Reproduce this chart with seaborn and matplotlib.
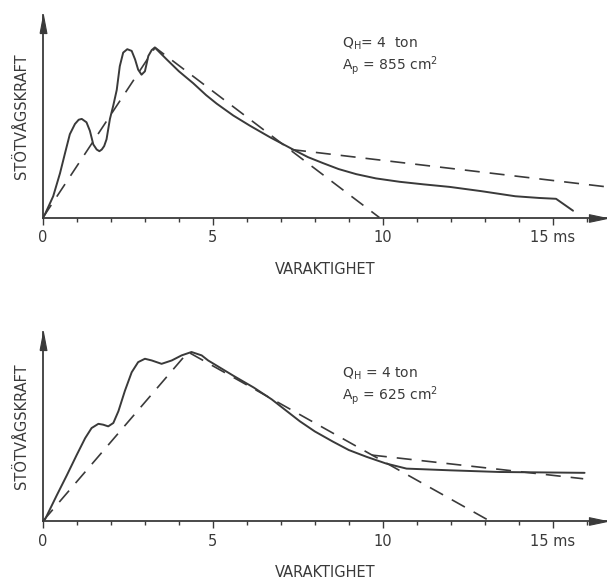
import matplotlib
matplotlib.use("Agg")
import matplotlib.pyplot as plt
import seaborn as sns

# ---- data (time in ms, force normalised so that peak = 1) ----
top_t = [0, 0.06, 0.30, 0.50, 0.65, 0.79, 0.94, 1.05, 1.14, 1.28, 1.38, 1.48, 1.58, 1.66, 1.73, 1.80, 1.87, 1.97,
         2.07, 2.17, 2.26, 2.36, 2.48, 2.61, 2.71, 2.80, 2.90, 3.00, 3.10, 3.20, 3.29,
         3.64, 4.0, 4.42, 4.8, 5.11, 5.6, 6.09, 6.7, 7.36, 7.8, 8.24, 8.7, 9.22, 9.8, 10.5, 11.2, 11.97, 12.9, 13.9,
         14.6, 15.1, 15.6]
top_y = [0, 0.02, 0.125, 0.26, 0.38, 0.49, 0.55, 0.575, 0.58, 0.56, 0.51, 0.43, 0.40, 0.39, 0.40, 0.42, 0.46, 0.58,
         0.66, 0.75, 0.89, 0.97, 0.99, 0.98, 0.93, 0.87, 0.84, 0.86, 0.95, 0.985, 1.0,
         0.93, 0.86, 0.79, 0.72, 0.67, 0.60, 0.54, 0.47, 0.40, 0.355, 0.32, 0.285, 0.255, 0.23, 0.21, 0.195, 0.18,
         0.155, 0.125, 0.115, 0.11, 0.04]
top_tri_t = [0, 3.3, 9.9]
top_tri_y = [0, 1.0, 0]
top_tail_t = [7.3, 16.6]
top_tail_y = [0.40, 0.18]

bot_t = [0, 0.06, 0.40, 0.70, 0.99, 1.24, 1.43, 1.63, 1.77, 1.92, 2.07, 2.22, 2.41, 2.61, 2.80, 3.0, 3.2, 3.49,
         3.79, 4.08, 4.37, 4.67, 4.86, 5.6, 6.2, 6.73, 7.56, 8.0, 8.53, 9.0, 9.52, 10.1, 10.7, 11.97, 13.44, 15.94]
bot_y = [0, 0.01, 0.15, 0.27, 0.39, 0.49, 0.55, 0.575, 0.57, 0.56, 0.58, 0.65, 0.77, 0.88, 0.94, 0.96, 0.95, 0.93,
         0.95, 0.98, 1.0, 0.98, 0.95, 0.86, 0.79, 0.72, 0.59, 0.53, 0.47, 0.42, 0.38, 0.34, 0.31, 0.30, 0.29, 0.285]
bot_tri_t = [0, 4.27, 13.15]
bot_tri_y = [0, 1.0, 0]
bot_tail_t = [9.68, 15.9]
bot_tail_y = [0.39, 0.25]

xticks = [0, 5, 10, 15]
xticklabels = ["0", "5", "10", "15 ms"]
ylabel = "STÖTVÅGSKRAFT"
xlabel = "VARAKTIGHET"
top_text = [r"Q$_\mathregular{H}$= 4  ton", r"A$_\mathregular{p}$ = 855 cm$^\mathregular{2}$"]
bot_text = [r"Q$_\mathregular{H}$ = 4 ton", r"A$_\mathregular{p}$ = 625 cm$^\mathregular{2}$"]

sns.set_theme(style="white")
plt.rcParams["font.family"] = ["DejaVu Sans"]
plt.rcParams["mathtext.fontset"] = "dejavusans"

col = "#3a3a3a"
W, H = 607, 581
fig = plt.figure(figsize=(W / 100, H / 100), dpi=100)
fig.patch.set_facecolor("white")

arrow_right = [(-2, -0.42), (0, 0), (-2, 0.42), (-2, -0.42)]
arrow_up = [(-0.38, -2), (0, 0), (0.38, -2), (-0.38, -2)]


def make_ax(base_px, top_px, ymax):
    left = 43 / W
    width = (607 - 43) / W
    bottom = (H - base_px) / H
    height = (base_px - top_px) / H
    ax = fig.add_axes([left, bottom, width, height])
    ax.set_xlim(0, 16.6)
    ax.set_ylim(0, ymax)
    return ax


def style(ax, texts, text_y):
    for s in ["top", "right"]:
        ax.spines[s].set_visible(False)
    for s in ["left", "bottom"]:
        ax.spines[s].set_color(col)
        ax.spines[s].set_linewidth(1.3)
    ax.set_xticks(xticks)
    ax.set_xticklabels(xticklabels)
    ax.set_xticks(range(1, 17), minor=True)
    ax.tick_params(axis="x", which="major", direction="out", length=5, width=1, color=col,
                   labelsize=10.5, labelcolor=col, pad=4, bottom=True)
    ax.tick_params(axis="x", which="minor", direction="out", length=3, width=1, color=col, bottom=True)
    ax.set_yticks([])
    ax.set_xlabel(xlabel, fontsize=10.5, color=col, labelpad=12)
    ax.set_ylabel(ylabel, fontsize=10.5, color=col, labelpad=10)
    ax.plot(1, 0, marker=arrow_right, color=col, markersize=26, markeredgewidth=0.8,
            transform=ax.transAxes, clip_on=False)
    ax.plot(0, 1, marker=arrow_up, color=col, markersize=26, markeredgewidth=0.8,
            transform=ax.transAxes, clip_on=False)
    ax.text(0.53, text_y[0], texts[0], transform=ax.transAxes, fontsize=10, color=col)
    ax.text(0.53, text_y[1], texts[1], transform=ax.transAxes, fontsize=10, color=col)


def draw(ax, t, y, tri_t, tri_y, tail_t, tail_y):
    sns.lineplot(x=t, y=y, ax=ax, color=col, linewidth=1.4)
    sns.lineplot(x=tri_t, y=tri_y, ax=ax, color=col, linewidth=1.2, sort=False)
    ax.lines[-1].set_dashes((9, 6))
    sns.lineplot(x=tail_t, y=tail_y, ax=ax, color=col, linewidth=1.2)
    ax.lines[-1].set_dashes((9, 6))
    for ln in ax.lines:
        ln.set_solid_joinstyle("round")


ax1 = make_ax(217.5, 15, 202.5 / 170)
draw(ax1, top_t, top_y, top_tri_t, top_tri_y, top_tail_t, top_tail_y)
style(ax1, top_text, (0.84, 0.73))

ax2 = make_ax(521, 332, 189 / 169)
draw(ax2, bot_t, bot_y, bot_tri_t, bot_tri_y, bot_tail_t, bot_tail_y)
style(ax2, bot_text, (0.76, 0.64))

fig.savefig("out.png", dpi=100, facecolor="white")
